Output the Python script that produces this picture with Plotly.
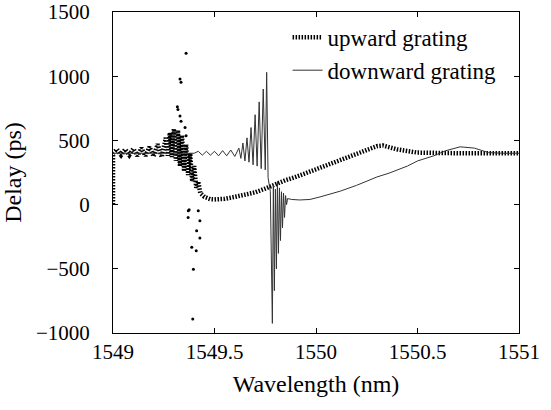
import plotly.graph_objects as go

# ---- data ----
up_wl = [1549.00, 1549.00, 1549.02, 1549.04, 1549.06, 1549.08, 1549.10, 1549.12, 1549.14, 1549.16,
         1549.18, 1549.20, 1549.22, 1549.24, 1549.26, 1549.27, 1549.28, 1549.29, 1549.30, 1549.31,
         1549.32, 1549.33, 1549.34, 1549.35, 1549.36, 1549.37, 1549.38, 1549.39, 1549.40, 1549.41,
         1549.42, 1549.43, 1549.45, 1549.48, 1549.50, 1549.55, 1549.60, 1549.65, 1549.70, 1549.75,
         1549.80, 1549.85, 1549.90, 1549.95, 1550.00, 1550.05, 1550.10, 1550.15, 1550.20, 1550.25,
         1550.30, 1550.33, 1550.40, 1550.50, 1550.60, 1550.70, 1550.80, 1550.90, 1551.00]
up_delay = [0, 400, 430, 385, 430, 385, 435, 380, 440, 380,
            450, 375, 470, 370, 520, 380, 560, 370, 590, 340,
            580, 300, 540, 260, 470, 230, 400, 180, 300, 130,
            180, 90, 60, 42, 40, 45, 60, 75, 95, 125,
            160, 190, 215, 245, 275, 305, 335, 365, 395, 425,
            455, 460, 430, 405, 400, 400, 400, 400, 400]

# scattered samples of the upward grating near its band edge
up_out_wl = [1549.36, 1549.33, 1549.335, 1549.317, 1549.32, 1549.33, 1549.335, 1549.355, 1549.36,
             1549.371, 1549.375, 1549.37, 1549.42, 1549.428, 1549.412, 1549.428, 1549.388,
             1549.41, 1549.396, 1549.393]
up_out_delay = [1178, 979, 953, 763, 740, 690, 650, 600, 537,
                -47, -40, -100, -47, -125, -203, -260, -332,
                -360, -503, -890]

down_wl = [1549.00, 1549.10, 1549.20, 1549.30, 1549.40, 1549.42, 1549.44, 1549.46, 1549.48, 1549.50,
           1549.52, 1549.54, 1549.56, 1549.58, 1549.60, 1549.62, 1549.63, 1549.64, 1549.65, 1549.66,
           1549.67, 1549.68, 1549.69, 1549.70, 1549.71, 1549.72, 1549.73, 1549.74, 1549.75, 1549.757,
           1549.764, 1549.775, 1549.785, 1549.79, 1549.795, 1549.80, 1549.805, 1549.81, 1549.815, 1549.82,
           1549.825, 1549.83, 1549.835, 1549.84, 1549.845, 1549.85, 1549.855, 1549.86, 1549.88, 1549.92,
           1549.97, 1550.02, 1550.08, 1550.12, 1550.20, 1550.30, 1550.36, 1550.45, 1550.50, 1550.58,
           1550.64, 1550.71, 1550.78, 1550.85, 1550.92, 1551.00]
down_delay = [400, 400, 400, 400, 400, 415, 385, 415, 385, 415,
              380, 420, 380, 425, 375, 440, 360, 480, 340, 520,
              330, 600, 310, 700, 300, 800, 280, 900, 270, 1030,
              210, 100, -925, 150, -670, 120, -500, 180, -380, 130,
              -280, 100, -180, 90, -100, 70, 0, 47, 40, 36,
              40, 60, 85, 105, 150, 215, 245, 300, 340, 380,
              420, 450, 440, 405, 400, 400]

x_ticks = [1549, 1549.5, 1550, 1550.5, 1551]
x_labels = ["1549", "1549.5", "1550", "1550.5", "1551"]
y_ticks = [-1000, -500, 0, 500, 1000, 1500]
y_labels = ["\u22121000", "\u2212500", "0", "500", "1000", "1500"]

FONT = "Liberation Serif"

fig = go.Figure()
fig.add_trace(go.Scatter(x=up_wl, y=up_delay, mode="lines", name="upward grating",
                         legendgroup="up",
                         line=dict(color="black", width=4.5, dash="1.5px,1.5px")))
fig.add_trace(go.Scatter(x=up_out_wl, y=up_out_delay, mode="markers", showlegend=False,
                         legendgroup="up",
                         marker=dict(color="black", size=3)))
fig.add_trace(go.Scatter(x=down_wl, y=down_delay, mode="lines", name="downward grating",
                         line=dict(color="#333333", width=1)))

axis_common = dict(showgrid=False, zeroline=False, showline=True, linecolor="black", linewidth=1,
                   mirror="ticks", ticks="inside", ticklen=5, tickcolor="black", automargin=False,
                   ticklabeloverflow="allow",
                   tickfont=dict(family=FONT, size=21, color="black"))

fig.update_layout(
    width=551, height=410,
    margin=dict(l=113, r=32, t=12, b=77),
    font=dict(family=FONT, color="black"),
    paper_bgcolor="white", plot_bgcolor="white",
    showlegend=True,
    legend=dict(x=0.43, y=0.988, xanchor="left", yanchor="top",
                bgcolor="rgba(0,0,0,0)", font=dict(family=FONT, size=23, color="black"),
                tracegroupgap=0),
    xaxis=dict(range=[1549, 1551], tickvals=x_ticks, ticktext=x_labels,
               title=dict(text="Wavelength (nm)", font=dict(family=FONT, size=24, color="black"),
                          standoff=11),
               **axis_common),
    yaxis=dict(range=[-1000, 1500], tickvals=y_ticks, ticktext=y_labels,
               ticklabelstandoff=18,
               title=dict(text="Delay (ps)", font=dict(family=FONT, size=24, color="black"),
                          standoff=9),
               **axis_common),
)

fig.write_html("out.html", config={"displayModeBar": False},
               post_script="document.body.style.margin='0';")
